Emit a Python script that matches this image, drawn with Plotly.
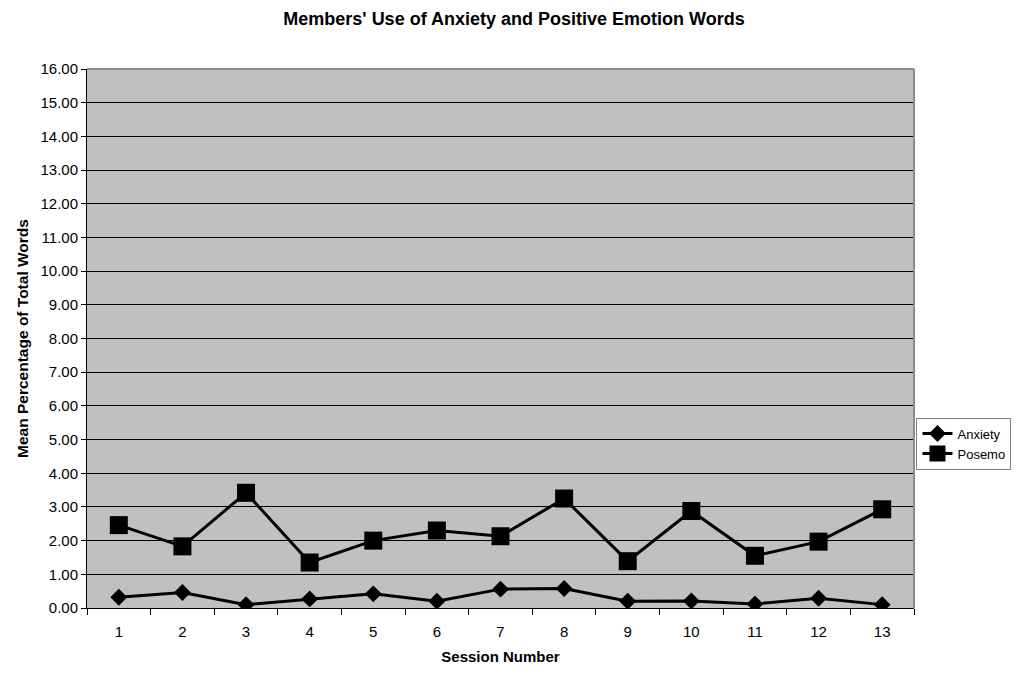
import plotly.graph_objects as go

sessions = [str(i) for i in range(1, 14)]
anxiety = [0.32, 0.46, 0.10, 0.27, 0.42, 0.20, 0.56, 0.58, 0.20, 0.21, 0.12, 0.29, 0.10]
posemo = [2.46, 1.83, 3.42, 1.35, 2.00, 2.30, 2.13, 3.25, 1.39, 2.88, 1.55, 1.97, 2.93]
y_ticks = [i for i in range(0, 17)]

fig = go.Figure()
fig.add_trace(go.Scatter(
    x=sessions, y=anxiety, name="Anxiety", mode="lines+markers",
    line=dict(color="black", width=3),
    marker=dict(symbol="diamond", size=13, color="black"),
))
fig.add_trace(go.Scatter(
    x=sessions, y=posemo, name="Posemo", mode="lines+markers",
    line=dict(color="black", width=3),
    marker=dict(symbol="square", size=18, color="black"),
))

fig.update_layout(
    width=1028, height=675,
    margin=dict(l=87, r=114, t=69, b=60),
    paper_bgcolor="white", plot_bgcolor="#C0C0C0",
    font=dict(family="Arial, Liberation Sans, sans-serif", color="black"),
    title=dict(
        text="<b>Members' Use of Anxiety and Positive Emotion Words</b>",
        x=0.5, xref="container", xanchor="center",
        y=1 - 19 / 675, yref="container", yanchor="middle",
        font=dict(size=18),
    ),
    legend=dict(
        x=1.003, xanchor="left", y=0.305, yanchor="middle",
        bordercolor="#808080", borderwidth=1, bgcolor="white",
        font=dict(size=13), tracegroupgap=0, itemwidth=30,
    ),
    showlegend=True,
)

fig.update_xaxes(
    type="category", range=[-0.5, 12.5],
    tickson="boundaries", ticks="outside", ticklen=6, tickcolor="black",
    showline=True, linecolor="black", linewidth=1,
    showgrid=False, tickfont=dict(size=15), ticklabelstandoff=10,
    title=dict(text="<b>Session Number</b>", font=dict(size=15), standoff=12),
)
fig.update_yaxes(
    range=[0, 16], tickvals=y_ticks, tickformat=".2f",
    ticks="outside", ticklen=5, tickcolor="black",
    showline=True, linecolor="black", linewidth=1,
    showgrid=True, gridcolor="black", gridwidth=1,
    zeroline=False, tickfont=dict(size=15),
    title=dict(text="<b>Mean Percentage of Total Words</b>", font=dict(size=15.5), standoff=8),
)

# gray frame along the top and right of the plotting area
fig.add_shape(type="line", xref="paper", yref="paper", x0=0, x1=1, y0=1, y1=1,
              line=dict(color="#8C8C8C", width=2))
fig.add_shape(type="line", xref="paper", yref="paper", x0=1, x1=1, y0=0, y1=1,
              line=dict(color="#8C8C8C", width=2))

fig.write_html("out.html")
